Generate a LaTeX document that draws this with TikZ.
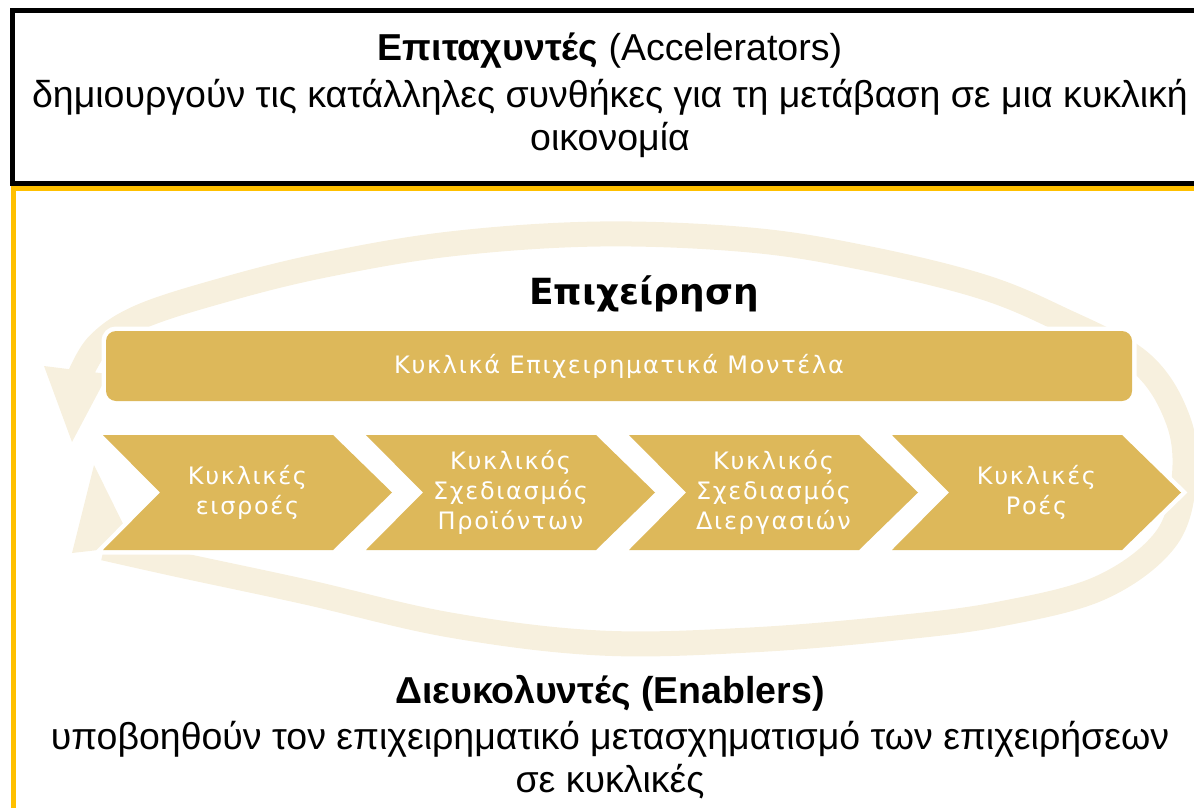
\documentclass[tikz,border=0pt]{standalone}
\usepackage{fontspec}
\setmainfont{Liberation Sans}
\newfontfamily\djv[LetterSpace=7]{DejaVu Sans}
\newfontfamily\djvb{DejaVu Sans}
\definecolor{gold}{RGB}{221,184,90}
\definecolor{ringc}{RGB}{247,240,222}
\definecolor{frameyel}{RGB}{255,192,0}
\tikzset{
  halo/.style={preaction={draw=white,line width=9pt,line join=miter}},
  chev/.style={fill=gold,halo},
  chevtext/.style={text=white,align=center,font=\djv\fontsize{24}{30}\selectfont},
  headtext/.style={anchor=base,font=\fontsize{37.5}{44}\selectfont},
  ring/.style={draw=ringc,line width=25pt}
}
\begin{document}
\begin{tikzpicture}[x=1pt,y=-1pt]
\useasboundingbox (0,0) rectangle (1194,808);
% frames
\draw[line width=5pt,black,line join=miter] (1194,10.5) -- (12.5,10.5) -- (12.5,183) -- (1194,183);
\draw[line width=4.5pt,frameyel,line join=miter] (1194,188.5) -- (13.5,188.5) -- (13.5,808);
% top text
\node[headtext] (t1) at (610,61) {\bfseries Επιταχυντές\mdseries{} (Accelerators)};
\node[headtext] (t2) at (610,107) {δημιουργούν τις κατάλληλες συνθήκες για τη μετάβαση σε μια κυκλική};
\node[headtext] (t3) at (610,150) {οικονομία};
% ring
\draw[ring] plot[smooth,tension=0.6] coordinates {(78,380) (98,345) (140,317) (220,291) (320,266) (450,244) (600,234) (750,240) (865,258) (980,286) (1058,318) (1140,362) (1178,420) (1184,480) (1165,540) (1100,588) (1000,614) (895,628) (750,640) (600,643) (450,625) (306,592) (180,565) (104,548)};
\fill[ringc] (44,366) -- (108,374) -- (72,442) -- cycle;
\fill[ringc] (94,465) -- (72,553) -- (134,546) -- cycle;
% title
\node[anchor=base,font=\djvb\bfseries\fontsize{36}{40}\selectfont] (title) at (644,304) {Επιχείρηση};
% bar
\node[fill=gold,halo,rounded corners=10pt,minimum width=1026pt,minimum height=70pt,inner sep=0pt,
  text=white,font=\djv\fontsize{24}{28}\selectfont] (bar) at (619,366) {Κυκλικά Επιχειρηματικά Μοντέλα};
% chevrons
\foreach \x in {103,366,629,892}{
  \path[chev] (\x,435) -- (\x+230,435) -- (\x+289,492.5) -- (\x+230,550) -- (\x,550) -- (\x+57,492.5) -- cycle;
}
\node[chevtext] (c1) at (247.5,492.5) {Κυκλικές\\εισροές};
\node[chevtext] (c2) at (510.5,492.5) {Κυκλικός\\Σχεδιασμός\\Προϊόντων};
\node[chevtext] (c3) at (773.5,492.5) {Κυκλικός\\Σχεδιασμός\\Διεργασιών};
\node[chevtext] (c4) at (1036.5,492.5) {Κυκλικές\\Ροές};
% bottom text
\node[headtext] (b1) at (610,703) {\bfseries Διευκολυντές (Enablers)};
\node[headtext] (b2) at (610,749) {υποβοηθούν τον επιχειρηματικό μετασχηματισμό των επιχειρήσεων};
\node[headtext] (b3) at (610,792) {σε κυκλικές};
\end{tikzpicture}
\end{document}
